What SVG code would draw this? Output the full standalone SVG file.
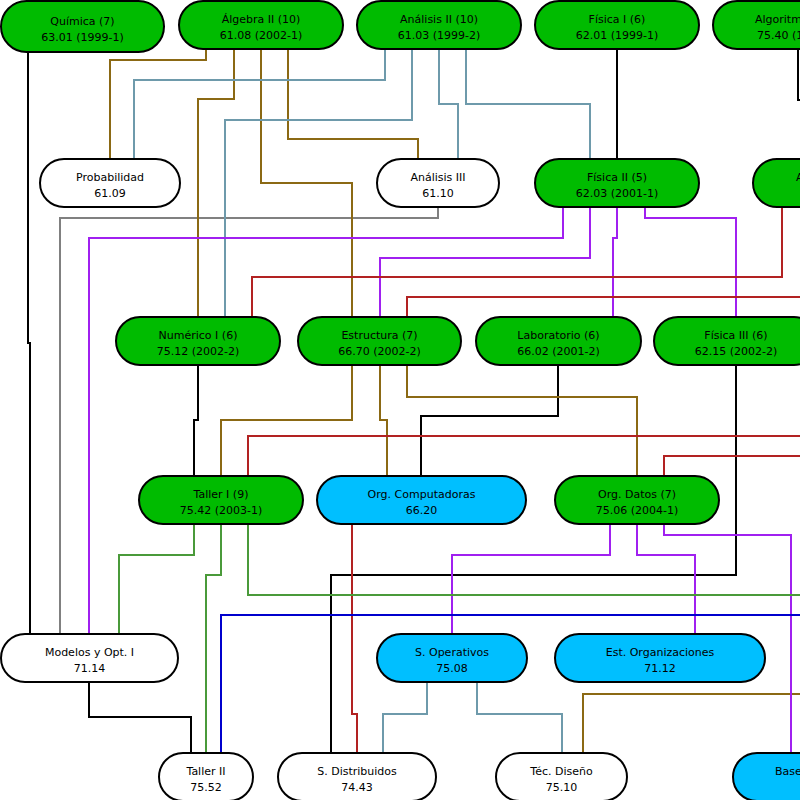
<svg xmlns="http://www.w3.org/2000/svg" width="800" height="800" viewBox="0 0 800 800">
<style>
.n rect{stroke:#000;stroke-width:2}
.g rect{fill:#00bb00}
.c rect{fill:#00bfff}
.w rect{fill:#fff}
text{font-family:"DejaVu Sans","Liberation Sans",sans-serif;font-size:11px;fill:#000;text-anchor:middle}
text.s{text-anchor:start}
#edges path{fill:none;stroke-width:2}
.k{stroke:#000}
.gr{stroke:#808080}
.br{stroke:#8b6914}
.bg{stroke:#6e9aab}
.pu{stroke:#a020f0}
.rd{stroke:#b22222}
.gn{stroke:#4a9a3a}
.bl{stroke:#0000cd}
</style>
<rect width="800" height="800" fill="#fff"/>
<g id="edges">
<path class="k" d="M28,52 V343 H30 V634"/>
<path class="k" d="M617,49 V159"/>
<path class="k" d="M798,49 V100 H810"/>
<path class="k" d="M198,365 V420 H194 V476"/>
<path class="k" d="M558,365 V416 H421 V476"/>
<path class="k" d="M736,365 V575 H331 V753"/>
<path class="k" d="M89,682 V717 H191 V753"/>
<path class="gr" d="M438,207 V218 H60 V634"/>
<path class="br" d="M206,49 V60 H110 V159"/>
<path class="br" d="M234,49 V99 H198 V317"/>
<path class="br" d="M261,49 V183 H352 V317"/>
<path class="br" d="M288,49 V139 H418 V159"/>
<path class="br" d="M352,365 V420 H221 V476"/>
<path class="br" d="M380,365 V420 H387 V476"/>
<path class="br" d="M407,365 V397 H637 V476"/>
<path class="br" d="M810,694 H583 V753"/>
<path class="bg" d="M385,49 V80 H134 V159"/>
<path class="bg" d="M412,49 V120 H225 V317"/>
<path class="bg" d="M439,49 V104 H458 V159"/>
<path class="bg" d="M466,49 V104 H590 V159"/>
<path class="bg" d="M427,682 V714 H383 V753"/>
<path class="bg" d="M477,682 V714 H562 V753"/>
<path class="pu" d="M563,207 V238 H89 V634"/>
<path class="pu" d="M590,207 V258 H380 V317"/>
<path class="pu" d="M617,207 V238 H613 V317"/>
<path class="pu" d="M645,207 V218 H736 V317"/>
<path class="pu" d="M610,524 V555 H452 V634"/>
<path class="pu" d="M637,524 V555 H695 V634"/>
<path class="pu" d="M664,524 V535 H791 V753"/>
<path class="rd" d="M782,207 V277 H252 V317"/>
<path class="rd" d="M810,297 H407 V317"/>
<path class="rd" d="M810,436 H248 V476"/>
<path class="rd" d="M810,456 H664 V476"/>
<path class="rd" d="M352,524 V714 H357 V753"/>
<path class="gn" d="M194,524 V555 H119 V634"/>
<path class="gn" d="M221,524 V575 H206 V753"/>
<path class="gn" d="M248,524 V595 H810"/>
<path class="bl" d="M810,615 H221 V753"/>
</g>
<g id="quimica" class="n g"><rect x="1" y="1" width="163" height="51" rx="25.5"/><text x="82.5" y="24.5">Química (7)</text><text x="82.5" y="40.5">63.01 (1999-1)</text></g>
<g id="algebra2" class="n g"><rect x="179" y="1" width="164" height="48" rx="24"/><text x="261" y="23">Álgebra II (10)</text><text x="261" y="39">61.08 (2002-1)</text></g>
<g id="analisis2" class="n g"><rect x="357" y="1" width="164" height="48" rx="24"/><text x="439" y="23">Análisis II (10)</text><text x="439" y="39">61.03 (1999-2)</text></g>
<g id="fisica1" class="n g"><rect x="535" y="1" width="164" height="48" rx="24"/><text x="617" y="23">Física I (6)</text><text x="617" y="39">62.01 (1999-1)</text></g>
<g id="algoritm" class="n g"><rect x="713" y="1" width="164" height="48" rx="24"/><text class="s" x="755" y="23">Algoritm</text><text class="s" x="757" y="39">75.40 (1</text></g>
<g id="probabilidad" class="n w"><rect x="40" y="159" width="140" height="48" rx="24"/><text x="110" y="181">Probabilidad</text><text x="110" y="197">61.09</text></g>
<g id="analisis3" class="n w"><rect x="377" y="159" width="122" height="48" rx="24"/><text x="438" y="181">Análisis III</text><text x="438" y="197">61.10</text></g>
<g id="fisica2" class="n g"><rect x="535" y="159" width="164" height="48" rx="24"/><text x="617" y="181">Física II (5)</text><text x="617" y="197">62.03 (2001-1)</text></g>
<g id="anode" class="n g"><rect x="753" y="159" width="164" height="48" rx="24"/><text class="s" x="796" y="181">A</text></g>
<g id="numerico1" class="n g"><rect x="116" y="317" width="164" height="48" rx="24"/><text x="198" y="339">Numérico I (6)</text><text x="198" y="355">75.12 (2002-2)</text></g>
<g id="estructura" class="n g"><rect x="298" y="317" width="163" height="48" rx="24"/><text x="379.5" y="339">Estructura (7)</text><text x="379.5" y="355">66.70 (2002-2)</text></g>
<g id="laboratorio" class="n g"><rect x="476" y="317" width="165" height="48" rx="24"/><text x="558.5" y="339">Laboratorio (6)</text><text x="558.5" y="355">66.02 (2001-2)</text></g>
<g id="fisica3" class="n g"><rect x="654" y="317" width="164" height="48" rx="24"/><text x="736" y="339">Física III (6)</text><text x="736" y="355">62.15 (2002-2)</text></g>
<g id="taller1" class="n g"><rect x="139" y="476" width="164" height="48" rx="24"/><text x="221" y="498">Taller I (9)</text><text x="221" y="514">75.42 (2003-1)</text></g>
<g id="orgcomp" class="n c"><rect x="317" y="476" width="209" height="48" rx="24"/><text x="421.5" y="498">Org. Computadoras</text><text x="421.5" y="514">66.20</text></g>
<g id="orgdatos" class="n g"><rect x="555" y="476" width="164" height="48" rx="24"/><text x="637" y="498">Org. Datos (7)</text><text x="637" y="514">75.06 (2004-1)</text></g>
<g id="modelos" class="n w"><rect x="1" y="634" width="177" height="48" rx="24"/><text x="89.5" y="656">Modelos y Opt. I</text><text x="89.5" y="672">71.14</text></g>
<g id="soperativos" class="n c"><rect x="377" y="634" width="150" height="48" rx="24"/><text x="452" y="656">S. Operativos</text><text x="452" y="672">75.08</text></g>
<g id="estorg" class="n c"><rect x="555" y="634" width="210" height="48" rx="24"/><text x="660" y="656">Est. Organizaciones</text><text x="660" y="672">71.12</text></g>
<g id="taller2" class="n w"><rect x="159" y="753" width="94" height="48" rx="24"/><text x="206" y="775">Taller II</text><text x="206" y="791">75.52</text></g>
<g id="sdistribuidos" class="n w"><rect x="278" y="753" width="158" height="48" rx="24"/><text x="357" y="775">S. Distribuidos</text><text x="357" y="791">74.43</text></g>
<g id="tecdiseno" class="n w"><rect x="496" y="753" width="131" height="48" rx="24"/><text x="561.5" y="775">Téc. Diseño</text><text x="561.5" y="791">75.10</text></g>
<g id="base" class="n c"><rect x="733" y="753" width="164" height="48" rx="24"/><text class="s" x="775" y="775">Base</text></g>
</svg>
